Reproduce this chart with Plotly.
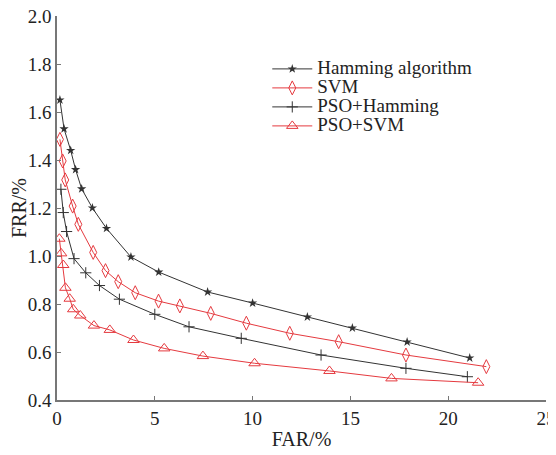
import plotly.graph_objects as go

# Hamming algorithm
ham_far = [0.15, 0.36, 0.70, 0.95, 1.26, 1.81, 2.53, 3.78, 5.2, 7.7, 10.0, 12.8, 15.1, 17.9, 21.1]
ham_frr = [1.65, 1.53, 1.44, 1.36, 1.28, 1.20, 1.115, 0.996, 0.933, 0.85, 0.804, 0.746, 0.70, 0.642, 0.575]

# SVM
svm_far = [0.15, 0.29, 0.42, 0.80, 1.09, 1.85, 2.48, 3.13, 4.0, 5.19, 6.28, 7.86, 9.68, 11.9, 14.4, 17.84, 21.95]
svm_frr = [1.486, 1.396, 1.317, 1.208, 1.132, 1.015, 0.939, 0.893, 0.847, 0.812, 0.792, 0.761, 0.72, 0.678, 0.643, 0.5875, 0.539]

# PSO+Hamming
psoh_far = [0.20, 0.32, 0.49, 0.87, 1.47, 2.17, 3.19, 5.0, 6.75, 9.42, 13.5, 17.84, 20.98]
psoh_frr = [1.278, 1.181, 1.102, 0.989, 0.930, 0.877, 0.82, 0.757, 0.705, 0.657, 0.5875, 0.532, 0.497]

# PSO+SVM
psos_far = [0.12, 0.21, 0.32, 0.43, 0.65, 0.83, 1.19, 1.89, 2.70, 3.91, 5.48, 7.46, 10.1, 13.93, 17.1, 21.53]
psos_frr = [1.072, 1.011, 0.9625, 0.8675, 0.822, 0.778, 0.752, 0.71, 0.692, 0.65, 0.615, 0.583, 0.553, 0.521, 0.49, 0.472]

series_names = ["Hamming algorithm", "SVM", "PSO+Hamming", "PSO+SVM"]

x_ticks = [0, 5, 10, 15, 20, 25]
y_ticks = [0.4, 0.6, 0.8, 1.0, 1.2, 1.4, 1.6, 1.8, 2.0]

BLACK = "#333333"
RED = "#e53a3f"
FONT = "Liberation Serif"


def legend_label(s):
    return "<span style='font-size:19px'>" + s + "</span>"


fig = go.Figure()
fig.add_trace(go.Scatter(x=ham_far, y=ham_frr, mode="lines+markers", name=legend_label(series_names[0]),
                         line=dict(color=BLACK, width=1),
                         marker=dict(symbol="star", size=7, color=BLACK)))
fig.add_trace(go.Scatter(x=svm_far, y=svm_frr, mode="lines+markers", name=legend_label(series_names[1]),
                         line=dict(color=RED, width=1),
                         marker=dict(symbol="diamond-tall-open", size=10, color=RED, line=dict(width=1))))
fig.add_trace(go.Scatter(x=psoh_far, y=psoh_frr, mode="lines+markers", name=legend_label(series_names[2]),
                         line=dict(color=BLACK, width=1),
                         marker=dict(symbol="cross-thin-open", size=8, color=BLACK, line=dict(width=1, color=BLACK))))
fig.add_trace(go.Scatter(x=psos_far, y=psos_frr, mode="lines+markers", name=legend_label(series_names[3]),
                         line=dict(color=RED, width=1),
                         marker=dict(symbol="triangle-up-open", size=10, color=RED, line=dict(width=1))))

# page body has an 8px margin, so the figure is sized/positioned to compensate
fig.update_layout(
    width=548, height=447,
    margin=dict(l=49, r=10, t=8, b=55),
    paper_bgcolor="white", plot_bgcolor="white",
    font=dict(family=FONT, size=19, color="#222"),
    showlegend=True,
    legend=dict(x=0.43, y=0.90, xanchor="left", yanchor="top", bgcolor="rgba(0,0,0,0)",
                font=dict(family=FONT, size=12, color="#222"), tracegroupgap=0,
                itemwidth=40),
)
fig.update_xaxes(range=[0, 25], tickvals=x_ticks, ticks="inside", ticklen=4, tickcolor="#777",
                 showline=True, linecolor="#777", linewidth=1.5, showgrid=False, zeroline=False,
                 automargin=False, ticklabeloverflow="allow",
                 title=dict(text="FAR/%", standoff=4, font=dict(family=FONT, size=20)),
                 tickfont=dict(family=FONT, size=19))
fig.update_yaxes(range=[0.4, 2.0], tickvals=y_ticks, tickformat=".1f", ticks="inside", ticklen=4,
                 tickcolor="#777", showline=True, linecolor="#777", linewidth=1.5, showgrid=False,
                 zeroline=False, automargin=False, ticklabeloverflow="allow",
                 title=dict(text="FRR/%", standoff=6, font=dict(family=FONT, size=20)),
                 tickfont=dict(family=FONT, size=19))

fig.write_html("out.html")
